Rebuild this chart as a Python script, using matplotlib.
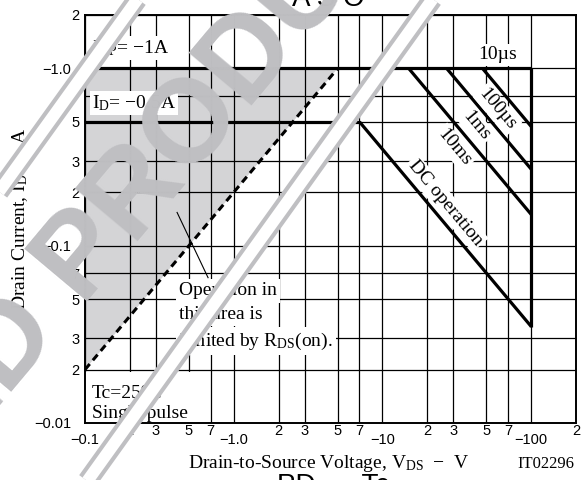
import matplotlib.pyplot as plt
from matplotlib.lines import Line2D
from matplotlib.patches import Rectangle
from matplotlib.ticker import FixedLocator, FixedFormatter

plt.rcParams['font.family'] = 'Liberation Sans'
plt.rcParams['mathtext.fontset'] = 'custom'
plt.rcParams['mathtext.rm'] = 'Liberation Serif'
plt.rcParams['mathtext.it'] = 'Liberation Serif:italic'
plt.rcParams['mathtext.bf'] = 'Liberation Serif:bold'

# axis ticks (P-channel part, so VDS and ID are negative)
vds_major = [0.1, 1, 10, 100]
vds_major_labels = ['−0.1', '−1.0', '−10', '−100']
vds_minor = [0.2, 0.3, 0.5, 0.7, 2, 3, 5, 7, 20, 30, 50, 70, 200]
vds_minor_labels = ['2', '3', '5', '7'] * 3 + ['2']
id_major = [0.01, 0.1, 1]
id_major_labels = ['−0.01', '−0.1', '−1.0']
id_minor = [0.02, 0.03, 0.05, 0.07, 0.2, 0.3, 0.5, 0.7, 2]
id_minor_labels = ['2', '3', '5', '7'] * 2 + ['2']

# ratings
vds_min = 0.1     # V, left edge of the chart
idp = 1.0         # pulsed drain current, A
id_dc = 0.5       # DC drain current, A
vdss = 100.0      # drain-source breakdown, V
rds_on = 5.0      # on-resistance, ohm

# power limited segments: label, dissipation (W), current ceiling (A)
seg_labels = ['100µs', '1ms', '10ms', 'DC operation']
seg_power = [47.0, 27.0, 15.0, 3.5]
seg_ceiling = [idp, idp, idp, id_dc]

W, H = 588, 480


def px(x, y):
    # pixel position (from top left) -> figure fraction
    return x / W, 1 - y / H


fig = plt.figure(figsize=(W / 100, H / 100), dpi=100)
ax = fig.add_axes([85 / W, 57 / H, 491 / W, 408 / H])
ax.set_xscale('log')
ax.set_yscale('log')
ax.set_xlim(vds_min, 200)
ax.set_ylim(0.01, 2)

ax.xaxis.set_major_locator(FixedLocator(vds_major))
ax.xaxis.set_major_formatter(FixedFormatter(vds_major_labels))
ax.xaxis.set_minor_locator(FixedLocator(vds_minor))
ax.xaxis.set_minor_formatter(FixedFormatter(vds_minor_labels))
ax.yaxis.set_major_locator(FixedLocator(id_major))
ax.yaxis.set_major_formatter(FixedFormatter(id_major_labels))
ax.yaxis.set_minor_locator(FixedLocator(id_minor))
ax.yaxis.set_minor_formatter(FixedFormatter(id_minor_labels))
ax.tick_params(which='both', length=0, labelsize=10.5, colors='black')
ax.tick_params(axis='x', which='major', pad=7)
ax.tick_params(axis='x', which='minor', pad=1)
ax.tick_params(axis='y', which='major', pad=10)
ax.tick_params(axis='y', which='minor', pad=4)
ax.set_axisbelow(True)
ax.grid(which='both', color='black', lw=0.9)
for s in ax.spines.values():
    s.set_linewidth(1.4)

# RDS(on) limited region
ax.fill([vds_min, idp * rds_on, vds_min], [idp, idp, vds_min / rds_on],
        color='#d4d4d6', lw=0, zorder=0.2)
ax.plot([vds_min, idp * rds_on], [vds_min / rds_on, idp], color='black',
        lw=2.2, ls=(0, (2.4, 1.6)), zorder=3)

# SOA boundary
thick = dict(color='black', lw=2.3, solid_capstyle='butt', zorder=3)
ax.plot([vds_min, vdss], [idp, idp], **thick)
ax.plot([vds_min, seg_power[-1] / id_dc], [id_dc, id_dc], **thick)
for p, ceil in zip(seg_power, seg_ceiling):
    ax.plot([p / ceil, vdss], [ceil, p / vdss], **thick)
ax.plot([vdss, vdss], [idp, seg_power[-1] / vdss], **thick)

serif = dict(family='Liberation Serif', fontsize=14, color='black')
wbox = dict(facecolor='white', edgecolor='none', pad=1.5)

ax.text(0.111, 1.22, r'$\mathrm{I_{DP}}$= −1A', va='baseline', bbox=wbox, zorder=4, **serif)
ax.text(0.111, 0.597, r'$\mathrm{I_D}$= −0.5A', va='baseline', bbox=wbox, zorder=4, **serif)

# segment labels sit along the -50 deg slope of the power lines
ax.text(59, 1.19, '10µs', ha='center', va='center', bbox=wbox, zorder=4, **serif)
seg_pos = [(59, 0.588), (42.6, 0.472), (30.3, 0.359), (26.4, 0.174)]
for lab, (x, y) in zip(seg_labels, seg_pos):
    ax.text(x, y, lab, ha='center', va='center', rotation=-50,
            rotation_mode='anchor', bbox=wbox, zorder=4, **serif)

note = ['Operation in', 'this area is', r'limited by $\mathrm{R_{DS}}$(on).']
for line, y in zip(note, [0.0524, 0.0388, 0.0273]):
    ax.text(0.429, y, line, va='baseline', bbox=dict(facecolor='white', edgecolor='none', pad=2.5),
            zorder=4, **serif)
ax.plot([0.672, 0.416], [0.066, 0.154], color='black', lw=0.8, zorder=4)

ax.add_patch(Rectangle((0.1, 0.01), 0.5, 0.0095, facecolor='white', edgecolor='none', zorder=1))
ax.text(0.111, 0.0139, 'Tc=25°C', va='baseline', zorder=4, **serif)
ax.text(0.111, 0.0107, 'Single pulse', va='baseline', zorder=4, **serif)

fig.text(*px(329, 468), r'Drain-to-Source Voltage, $\mathrm{V_{DS}}$  −  V',
         ha='center', va='baseline', **serif)
fig.text(*px(574, 468), 'IT02296', ha='right', va='baseline',
         family='Liberation Serif', fontsize=12)
fig.text(*px(20, 219), r'Drain Current, $\mathrm{I_D}$  −  A', rotation=90,
         ha='center', va='center', **serif)

# neighbouring chart titles, clipped by the page edges
fig.text(*px(365, 6), 'A S O', ha='right', va='baseline', fontsize=20)
fig.text(*px(277, 473), 'PD  –  Tc', ha='left', va='top', fontsize=20)

# discontinued watermark
mark = '#bfbfc2'
for (x0, y0), (x1, y1) in [((-30, 232), (167, -42)), ((58, 522), (462, -42))]:
    a, b = px(x0, y0), px(x1, y1)
    fig.add_artist(Line2D([a[0], b[0]], [a[1], b[1]], color=mark, lw=14.5,
                          solid_capstyle='butt', transform=fig.transFigure, zorder=9))
    fig.add_artist(Line2D([a[0], b[0]], [a[1], b[1]], color='white', lw=8.6,
                          solid_capstyle='butt', transform=fig.transFigure, zorder=9))
fig.text(*px(-52, 421), 'DISCONTINUED PRODUCT', color=mark, fontsize=85,
         fontweight='bold', rotation=50, rotation_mode='anchor',
         ha='center', va='center', zorder=10)

fig.savefig('out.png', dpi=100)
